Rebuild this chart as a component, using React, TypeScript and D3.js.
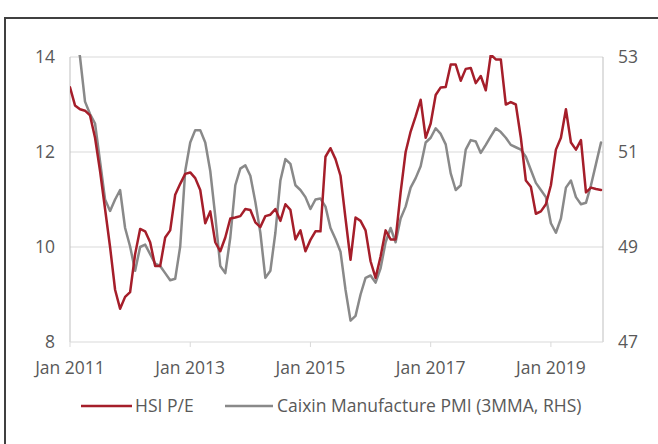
import React from 'react';
import * as d3 from 'd3';

// monthly, Jan 2011 .. Nov 2019
const hsiPE = [
  13.36, 12.98, 12.9, 12.87, 12.77, 12.3, 11.6, 10.8, 10.0, 9.1, 8.7, 8.95,
  9.05, 9.85, 10.38, 10.33, 10.1, 9.6, 9.6, 10.2, 10.35, 11.1, 11.33, 11.54,
  11.57, 11.45, 11.2, 10.5, 10.75, 10.1, 9.91, 10.2, 10.6, 10.62, 10.65, 10.8,
  10.78, 10.52, 10.42, 10.65, 10.68, 10.8, 10.55, 10.9, 10.78, 10.16, 10.35, 9.91,
  10.15, 10.33, 10.33, 11.9, 12.08, 11.85, 11.5, 10.6, 9.73, 10.62, 10.55, 10.35,
  9.7, 9.35, 9.8, 10.35, 10.16, 10.16, 11.15, 12.0, 12.43, 12.75, 13.1, 12.3,
  12.6, 13.2, 13.36, 13.37, 13.84, 13.84, 13.5, 13.75, 13.77, 13.45, 13.6, 13.3,
  14.05, 13.95, 13.95, 13.0, 13.05, 13.0, 12.3, 11.4, 11.27, 10.7, 10.75, 10.9,
  11.3, 12.05, 12.3, 12.9, 12.2, 12.05, 12.25, 11.15, 11.25, 11.22, 11.2,
];

const caixinPMI = [
  54.3, 53.6, 53.0, 52.06, 51.8, 51.6, 50.8, 50.0, 49.76, 50.0, 50.2, 49.4,
  49.01, 48.5, 49.0, 49.05, 48.85, 48.65, 48.6, 48.45, 48.3, 48.33, 49.01, 50.6,
  51.2, 51.46, 51.46, 51.2, 50.6, 49.65, 48.6, 48.45, 49.2, 50.3, 50.65, 50.72,
  50.5, 49.95, 49.3, 48.35, 48.5, 49.3, 50.4, 50.85, 50.75, 50.3, 50.2, 50.05,
  49.8, 50.0, 50.02, 49.85, 49.4, 49.17, 48.9, 48.1, 47.45, 47.55, 48.0, 48.35,
  48.4, 48.25, 48.55, 49.1, 49.4, 49.1, 49.6, 49.85, 50.25, 50.45, 50.7, 51.2,
  51.3, 51.5, 51.38, 51.16, 50.55, 50.2, 50.3, 51.05, 51.25, 51.22, 50.98, 51.15,
  51.33, 51.5, 51.42, 51.3, 51.15, 51.1, 51.05, 50.9, 50.62, 50.35, 50.2, 50.05,
  49.5, 49.3, 49.6, 50.25, 50.4, 50.05, 49.9, 49.93, 50.3, 50.75, 51.2,
];

const xTickIndex = [0, 24, 48, 72, 96];
const xTickLabels = ['Jan 2011', 'Jan 2013', 'Jan 2015', 'Jan 2017', 'Jan 2019'];
const leftTicks = [8, 10, 12, 14];
const rightTicks = [47, 49, 51, 53];
const seriesNames = ['HSI P/E', 'Caixin Manufacture PMI (3MMA, RHS)'];

const W = 658;
const H = 444;
const RED = '#A51E2A';
const GREY = '#898989';
const FONT = '"Open Sans", "Noto Sans", sans-serif';

export default function App() {
  const x = d3.scaleLinear().domain([0, 106.4]).range([70, 603]);
  const yL = d3.scaleLinear().domain([8, 14]).range([342, 57]);
  const yR = d3.scaleLinear().domain([47, 53]).range([342, 57]);

  const lineL = d3.line<number>().x((_, i) => x(i)).y(d => yL(d));
  const lineR = d3.line<number>().x((_, i) => x(i)).y(d => yR(d));

  const [x0, x1] = x.range();
  const [yb, yt] = yL.range();

  return (
    <svg width={W} height={H} style={{ position: 'absolute', left: 0, top: 0, background: '#fff' }}
      fontFamily={FONT}>
      <defs>
        <clipPath id="plot">
          <rect x={x0} y={yt - 2} width={x1 - x0} height={yb - yt + 2} />
        </clipPath>
      </defs>

      {/* frame of the page */}
      <line x1={5} x2={5} y1={18} y2={H} stroke="#404040" strokeWidth={2} />
      <line x1={4} x2={W} y1={18} y2={18} stroke="#404040" strokeWidth={2} />

      {leftTicks.filter(t => t !== 8).map(t => (
        <line key={t} x1={x0} x2={x1} y1={yL(t)} y2={yL(t)} stroke="#D9D9D9" strokeWidth={1} />
      ))}
      <line x1={x0} x2={x0} y1={yt} y2={yb} stroke="#BFBFBF" />
      <line x1={x1} x2={x1} y1={yt} y2={yb} stroke="#BFBFBF" />
      <line x1={x0} x2={x1} y1={yb} y2={yb} stroke="#D9D9D9" />
      {xTickIndex.map(t => (
        <line key={t} x1={x(t)} x2={x(t)} y1={yb} y2={yb + 5} stroke="#D9D9D9" />
      ))}

      <g clipPath="url(#plot)" fill="none" strokeLinejoin="round" strokeLinecap="round">
        <path d={lineR(caixinPMI) || ''} stroke={GREY} strokeWidth={2.5} />
        <path d={lineL(hsiPE) || ''} stroke={RED} strokeWidth={2.5} />
      </g>

      <g fontSize={17.5} fill="#595959">
        {leftTicks.map(t => (
          <text key={t} x={55} y={yL(t)} dy="0.35em" textAnchor="end">{t}</text>
        ))}
        {rightTicks.map(t => (
          <text key={t} x={618} y={yR(t)} dy="0.35em" textAnchor="start">{t}</text>
        ))}
        {xTickIndex.map((t, i) => (
          <text key={t} x={x(t)} y={374} textAnchor="middle">{xTickLabels[i]}</text>
        ))}
      </g>

      <g fontSize={17.5} fill="#595959">
        <line x1={81} x2={132} y1={406} y2={406} stroke={RED} strokeWidth={2.5} />
        <text x={135} y={406} dy="0.35em">{seriesNames[0]}</text>
        <line x1={225} x2={273} y1={406} y2={406} stroke={GREY} strokeWidth={2.5} />
        <text x={277} y={406} dy="0.35em">{seriesNames[1]}</text>
      </g>
    </svg>
  );
}
